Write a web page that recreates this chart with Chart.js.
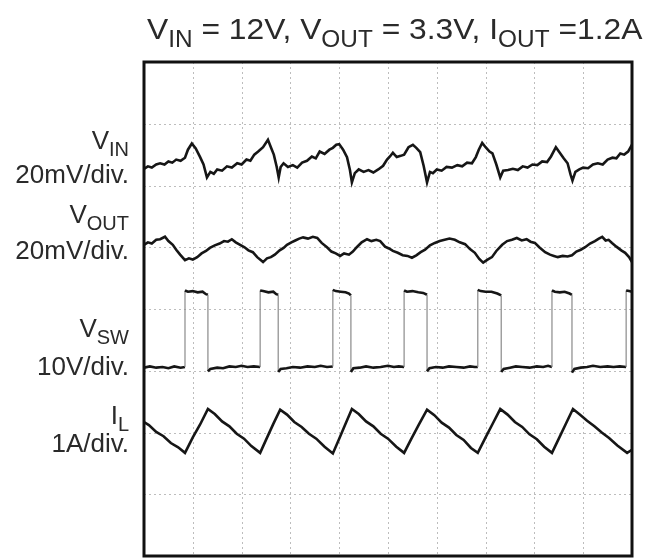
<!DOCTYPE html>
<html>
<head>
<meta charset="utf-8">
<script src="https://cdn.jsdelivr.net/npm/chart.js@4.4.1/dist/chart.umd.min.js"></script>
<style>
  html, body { margin: 0; padding: 0; background: #fff; }
  #wrap { width: 648px; height: 559px; }
</style>
</head>
<body>
<div id="wrap"><canvas id="scope" width="648" height="559"></canvas></div>
<script>
// Scope screen: 10 time divisions, 8 level divisions
const timeDivs = [1, 2, 3, 4, 5, 6, 7, 8, 9];
const levelDivs = [1, 2, 3, 4, 5, 6, 7];

// title and channel labels ([text, isSubscript])
const titleParts = [['V', 0], ['IN', 1], [' = 12V, V', 0], ['OUT', 1], [' = 3.3V, I', 0], ['OUT', 1], [' =1.2A', 0]];
const channelNames = [
    [['V', 0], ['IN', 1]],
    [['V', 0], ['OUT', 1]],
    [['V', 0], ['SW', 1]],
    [['I', 0], ['L', 1]]
];
const channelScales = ['20mV/div.', '20mV/div.', '10V/div.', '1A/div.'];

// traces, [time (div), level (div)]
const vinTrace = [
    [0, 6.27], [0.08, 6.31], [0.16, 6.29], [0.25, 6.34], [0.33, 6.36], [0.42, 6.34], [0.5, 6.39], [0.58, 6.37],
    [0.66, 6.42], [0.75, 6.40], [0.84, 6.45], [0.9, 6.58], [0.98, 6.68], [1.06, 6.60], [1.15, 6.46], [1.22, 6.34],
    [1.29, 6.13], [1.36, 6.22], [1.43, 6.19], [1.5, 6.26], [1.6, 6.24], [1.7, 6.31], [1.8, 6.29], [1.91, 6.36],
    [2.0, 6.34], [2.1, 6.42], [2.18, 6.40], [2.26, 6.50], [2.34, 6.55], [2.44, 6.62], [2.54, 6.74], [2.6, 6.62],
    [2.66, 6.50], [2.72, 6.30], [2.76, 6.13], [2.8, 6.30], [2.86, 6.36], [2.95, 6.30], [3.05, 6.33], [3.14, 6.29],
    [3.24, 6.37], [3.34, 6.40], [3.44, 6.47], [3.52, 6.44], [3.6, 6.55], [3.7, 6.51], [3.8, 6.58], [3.87, 6.61],
    [3.94, 6.66], [4.0, 6.67], [4.08, 6.58], [4.16, 6.46], [4.22, 6.25], [4.26, 6.05], [4.32, 6.20], [4.4, 6.26],
    [4.5, 6.22], [4.6, 6.25], [4.7, 6.21], [4.8, 6.26], [4.9, 6.32], [4.98, 6.42], [5.04, 6.47], [5.1, 6.53],
    [5.18, 6.46], [5.26, 6.48], [5.33, 6.50], [5.42, 6.62], [5.51, 6.66], [5.58, 6.61], [5.66, 6.54], [5.73, 6.32],
    [5.80, 6.05], [5.86, 6.22], [5.92, 6.20], [6.0, 6.26], [6.1, 6.24], [6.2, 6.30], [6.31, 6.29], [6.42, 6.33],
    [6.52, 6.31], [6.62, 6.37], [6.72, 6.36], [6.8, 6.46], [6.86, 6.58], [6.93, 6.69], [7.0, 6.62], [7.08, 6.55],
    [7.14, 6.52], [7.22, 6.34], [7.30, 6.13], [7.36, 6.24], [7.46, 6.25], [7.56, 6.27], [7.66, 6.25], [7.76, 6.31],
    [7.86, 6.29], [7.96, 6.34], [8.06, 6.33], [8.16, 6.39], [8.26, 6.38], [8.34, 6.47], [8.44, 6.62], [8.52, 6.53],
    [8.6, 6.44], [8.68, 6.36], [8.74, 6.18], [8.78, 6.08], [8.84, 6.22], [8.92, 6.26], [9.0, 6.29], [9.1, 6.28],
    [9.2, 6.34], [9.3, 6.36], [9.4, 6.34], [9.5, 6.42], [9.6, 6.45], [9.68, 6.44], [9.76, 6.52], [9.84, 6.50],
    [9.92, 6.55], [10, 6.66]
];

const voutTrace = [
    [0, 5.04], [0.08, 5.08], [0.16, 5.06], [0.25, 5.12], [0.33, 5.13], [0.43, 5.17], [0.5, 5.10], [0.59, 5.04],
    [0.66, 4.96], [0.74, 4.88], [0.84, 4.79], [0.92, 4.82], [1.0, 4.80], [1.09, 4.84], [1.18, 4.90], [1.27, 4.94],
    [1.35, 4.99], [1.45, 5.03], [1.55, 5.06], [1.64, 5.10], [1.72, 5.09], [1.80, 5.13], [1.88, 5.08], [1.97, 5.04],
    [2.06, 5.00], [2.14, 4.95], [2.23, 4.92], [2.32, 4.84], [2.44, 4.76], [2.52, 4.82], [2.6, 4.84], [2.68, 4.88],
    [2.78, 4.95], [2.86, 4.99], [2.93, 5.04], [3.02, 5.08], [3.1, 5.11], [3.18, 5.14], [3.26, 5.16], [3.36, 5.14],
    [3.46, 5.17], [3.55, 5.15], [3.64, 5.07], [3.75, 5.00], [3.84, 4.93], [3.93, 4.90], [4.02, 4.86], [4.1, 4.90],
    [4.2, 4.88], [4.28, 4.93], [4.36, 5.00], [4.46, 5.08], [4.57, 5.13], [4.66, 5.10], [4.76, 5.12], [4.84, 5.10],
    [4.94, 5.01], [5.02, 4.98], [5.1, 4.94], [5.2, 4.91], [5.3, 4.87], [5.4, 4.86], [5.49, 4.83], [5.58, 4.87],
    [5.67, 4.92], [5.76, 4.96], [5.86, 5.03], [5.96, 5.07], [6.06, 5.10], [6.16, 5.12], [6.26, 5.14], [6.37, 5.12],
    [6.47, 5.08], [6.58, 5.05], [6.68, 4.97], [6.78, 4.91], [6.87, 4.81], [6.95, 4.75], [7.04, 4.80], [7.13, 4.84],
    [7.22, 4.94], [7.34, 5.04], [7.44, 5.10], [7.54, 5.12], [7.64, 5.15], [7.74, 5.11], [7.84, 5.13], [7.92, 5.09],
    [8.01, 5.07], [8.1, 5.00], [8.22, 4.92], [8.32, 4.88], [8.4, 4.86], [8.48, 4.84], [8.58, 4.86], [8.68, 4.85],
    [8.77, 4.87], [8.86, 4.93], [8.95, 4.96], [9.04, 5.00], [9.14, 5.06], [9.24, 5.10], [9.32, 5.14], [9.39, 5.17],
    [9.46, 5.11], [9.52, 5.12], [9.59, 5.07], [9.68, 5.01], [9.78, 4.95], [9.86, 4.91], [9.94, 4.84], [10, 4.76]
];

const vswTrace = [
    [0, 3.05], [0.12, 3.07], [0.25, 3.05], [0.38, 3.06], [0.5, 3.04], [0.62, 3.07], [0.75, 3.05], [0.84, 3.06],
    [0.84, 4.30], [0.9, 4.28], [1.0, 4.29], [1.1, 4.27], [1.2, 4.28], [1.27, 4.24], [1.31, 4.23],
    [1.31, 2.99], [1.36, 3.03], [1.5, 3.05], [1.62, 3.04], [1.75, 3.07], [1.88, 3.06], [2.0, 3.08], [2.12, 3.06], [2.25, 3.07], [2.38, 3.06],
    [2.38, 4.30], [2.44, 4.29], [2.55, 4.27], [2.65, 4.28], [2.71, 4.24], [2.75, 4.23],
    [2.75, 2.98], [2.8, 3.03], [2.92, 3.04], [3.05, 3.06], [3.2, 3.05], [3.35, 3.07], [3.5, 3.06], [3.62, 3.08], [3.75, 3.06], [3.87, 3.07],
    [3.87, 4.31], [3.93, 4.29], [4.03, 4.28], [4.13, 4.27], [4.2, 4.25], [4.24, 4.22],
    [4.24, 2.98], [4.29, 3.04], [4.42, 3.05], [4.55, 3.07], [4.7, 3.05], [4.85, 3.06], [5.0, 3.08], [5.12, 3.06], [5.22, 3.07], [5.33, 3.06],
    [5.33, 4.30], [5.39, 4.28], [5.5, 4.29], [5.62, 4.27], [5.72, 4.26], [5.80, 4.23],
    [5.80, 2.99], [5.85, 3.04], [5.98, 3.06], [6.12, 3.05], [6.25, 3.07], [6.4, 3.06], [6.55, 3.05], [6.68, 3.07], [6.78, 3.06], [6.84, 3.06],
    [6.84, 4.31], [6.9, 4.29], [7.0, 4.28], [7.12, 4.28], [7.24, 4.25], [7.32, 4.22],
    [7.32, 2.98], [7.37, 3.03], [7.5, 3.05], [7.62, 3.07], [7.75, 3.06], [7.9, 3.05], [8.05, 3.07], [8.18, 3.06], [8.28, 3.08], [8.36, 3.06],
    [8.36, 4.30], [8.42, 4.28], [8.52, 4.27], [8.62, 4.28], [8.72, 4.25], [8.77, 4.23],
    [8.77, 2.97], [8.82, 3.03], [8.95, 3.05], [9.08, 3.06], [9.2, 3.08], [9.35, 3.06], [9.5, 3.07], [9.62, 3.06], [9.75, 3.07], [9.88, 3.06],
    [9.88, 4.30], [9.94, 4.29], [10, 4.28]
];

const ilTrace = [
    [0, 2.17], [0.1, 2.12], [0.25, 2.01], [0.4, 1.94], [0.55, 1.83], [0.7, 1.76], [0.84, 1.67],
    [1.0, 1.92], [1.15, 2.13], [1.31, 2.38], [1.45, 2.30], [1.6, 2.18], [1.75, 2.10], [1.9, 1.98], [2.05, 1.90], [2.2, 1.78], [2.38, 1.67],
    [2.5, 1.88], [2.65, 2.14], [2.79, 2.37], [2.93, 2.29], [3.08, 2.17], [3.23, 2.09], [3.38, 1.98], [3.53, 1.90], [3.7, 1.77], [3.87, 1.66],
    [4.0, 1.90], [4.13, 2.14], [4.26, 2.38], [4.4, 2.30], [4.55, 2.18], [4.7, 2.10], [4.85, 1.98], [5.0, 1.90], [5.17, 1.77], [5.33, 1.67],
    [5.48, 1.90], [5.64, 2.14], [5.80, 2.37], [5.95, 2.28], [6.1, 2.16], [6.25, 2.08], [6.4, 1.96], [6.55, 1.88], [6.7, 1.75], [6.84, 1.67],
    [7.0, 1.92], [7.15, 2.15], [7.30, 2.38], [7.45, 2.29], [7.6, 2.17], [7.75, 2.09], [7.9, 1.97], [8.05, 1.89], [8.2, 1.77], [8.36, 1.67],
    [8.5, 1.90], [8.65, 2.15], [8.79, 2.38], [8.93, 2.29], [9.08, 2.19], [9.23, 2.10], [9.38, 2.00], [9.53, 1.91], [9.7, 1.79], [9.9, 1.67],
    [10, 1.72]
];

const traces = [vinTrace, voutTrace, vswTrace, ilTrace];

function toPoints(trace) {
    return trace.map(p => ({ x: p[0], y: p[1] }));
}

// draws text made of normal and subscript pieces
function drawRich(ctx, parts, x, baseline, size, align, stretch) {
    const sx = stretch || 1;
    const subSize = Math.round(size * 0.76);
    const fontFor = sub => (sub ? subSize : size) + 'px "Liberation Sans", Arial, sans-serif';
    let total = 0;
    parts.forEach(p => { ctx.font = fontFor(p[1]); total += ctx.measureText(p[0]).width; });
    total *= sx;
    let cx = align === 'right' ? x - total : x;
    ctx.textAlign = 'left';
    ctx.textBaseline = 'alphabetic';
    parts.forEach(p => {
        ctx.font = fontFor(p[1]);
        ctx.save();
        ctx.translate(cx, baseline + (p[1] ? size * 0.27 : 0));
        ctx.scale(sx, 1);
        ctx.fillText(p[0], 0, 0);
        ctx.restore();
        cx += ctx.measureText(p[0]).width * sx;
    });
}

const scopePlugin = {
    id: 'scopeScreen',
    beforeDatasetsDraw(chart) {
        const ctx = chart.ctx;
        const area = chart.chartArea;
        const xs = chart.scales.x, ys = chart.scales.y;
        ctx.save();
        ctx.strokeStyle = '#bdbdbd';
        ctx.lineWidth = 1;
        ctx.setLineDash([2, 3]);
        timeDivs.forEach(t => {
            const px = Math.round(xs.getPixelForValue(t)) + 0.5;
            ctx.beginPath(); ctx.moveTo(px, area.top); ctx.lineTo(px, area.bottom); ctx.stroke();
        });
        levelDivs.forEach(v => {
            const py = Math.round(ys.getPixelForValue(v)) + 0.5;
            ctx.beginPath(); ctx.moveTo(area.left, py); ctx.lineTo(area.right, py); ctx.stroke();
        });
        ctx.restore();
    },
    afterDraw(chart) {
        const ctx = chart.ctx;
        const area = chart.chartArea;
        ctx.save();
        ctx.strokeStyle = '#111';
        ctx.lineWidth = 3;
        ctx.strokeRect(area.left, area.top, area.right - area.left, area.bottom - area.top);

        ctx.fillStyle = '#2a2a2a';
        drawRich(ctx, titleParts, area.left + 3, 39, 30, 'left', 1.06);

        const nameBase = [149, 223, 337, 424];
        const scaleBase = [183, 259, 375, 452];
        channelNames.forEach((name, i) => {
            drawRich(ctx, name, 129, nameBase[i], 26, 'right');
            drawRich(ctx, [[channelScales[i], 0]], 129, scaleBase[i], 26, 'right');
        });
        ctx.restore();
    }
};

new Chart(document.getElementById('scope'), {
    type: 'line',
    data: {
        datasets: traces.map(tr => ({
            data: toPoints(tr),
            borderColor: '#161616',
            borderWidth: 2.6,
            pointRadius: 0,
            tension: 0,
            segment: {
                borderColor: c => (c.p0.parsed.x === c.p1.parsed.x ? '#8a8a8a' : undefined),
                borderWidth: c => (c.p0.parsed.x === c.p1.parsed.x ? 1.2 : undefined)
            }
        }))
    },
    plugins: [scopePlugin],
    options: {
        responsive: false,
        animation: false,
        layout: { padding: { left: 144, right: 16, top: 62, bottom: 3 } },
        scales: {
            x: { type: 'linear', min: 0, max: 10, display: false },
            y: { type: 'linear', min: 0, max: 8, display: false }
        },
        plugins: {
            legend: { display: false },
            tooltip: { enabled: false }
        }
    }
});
</script>
</body>
</html>
